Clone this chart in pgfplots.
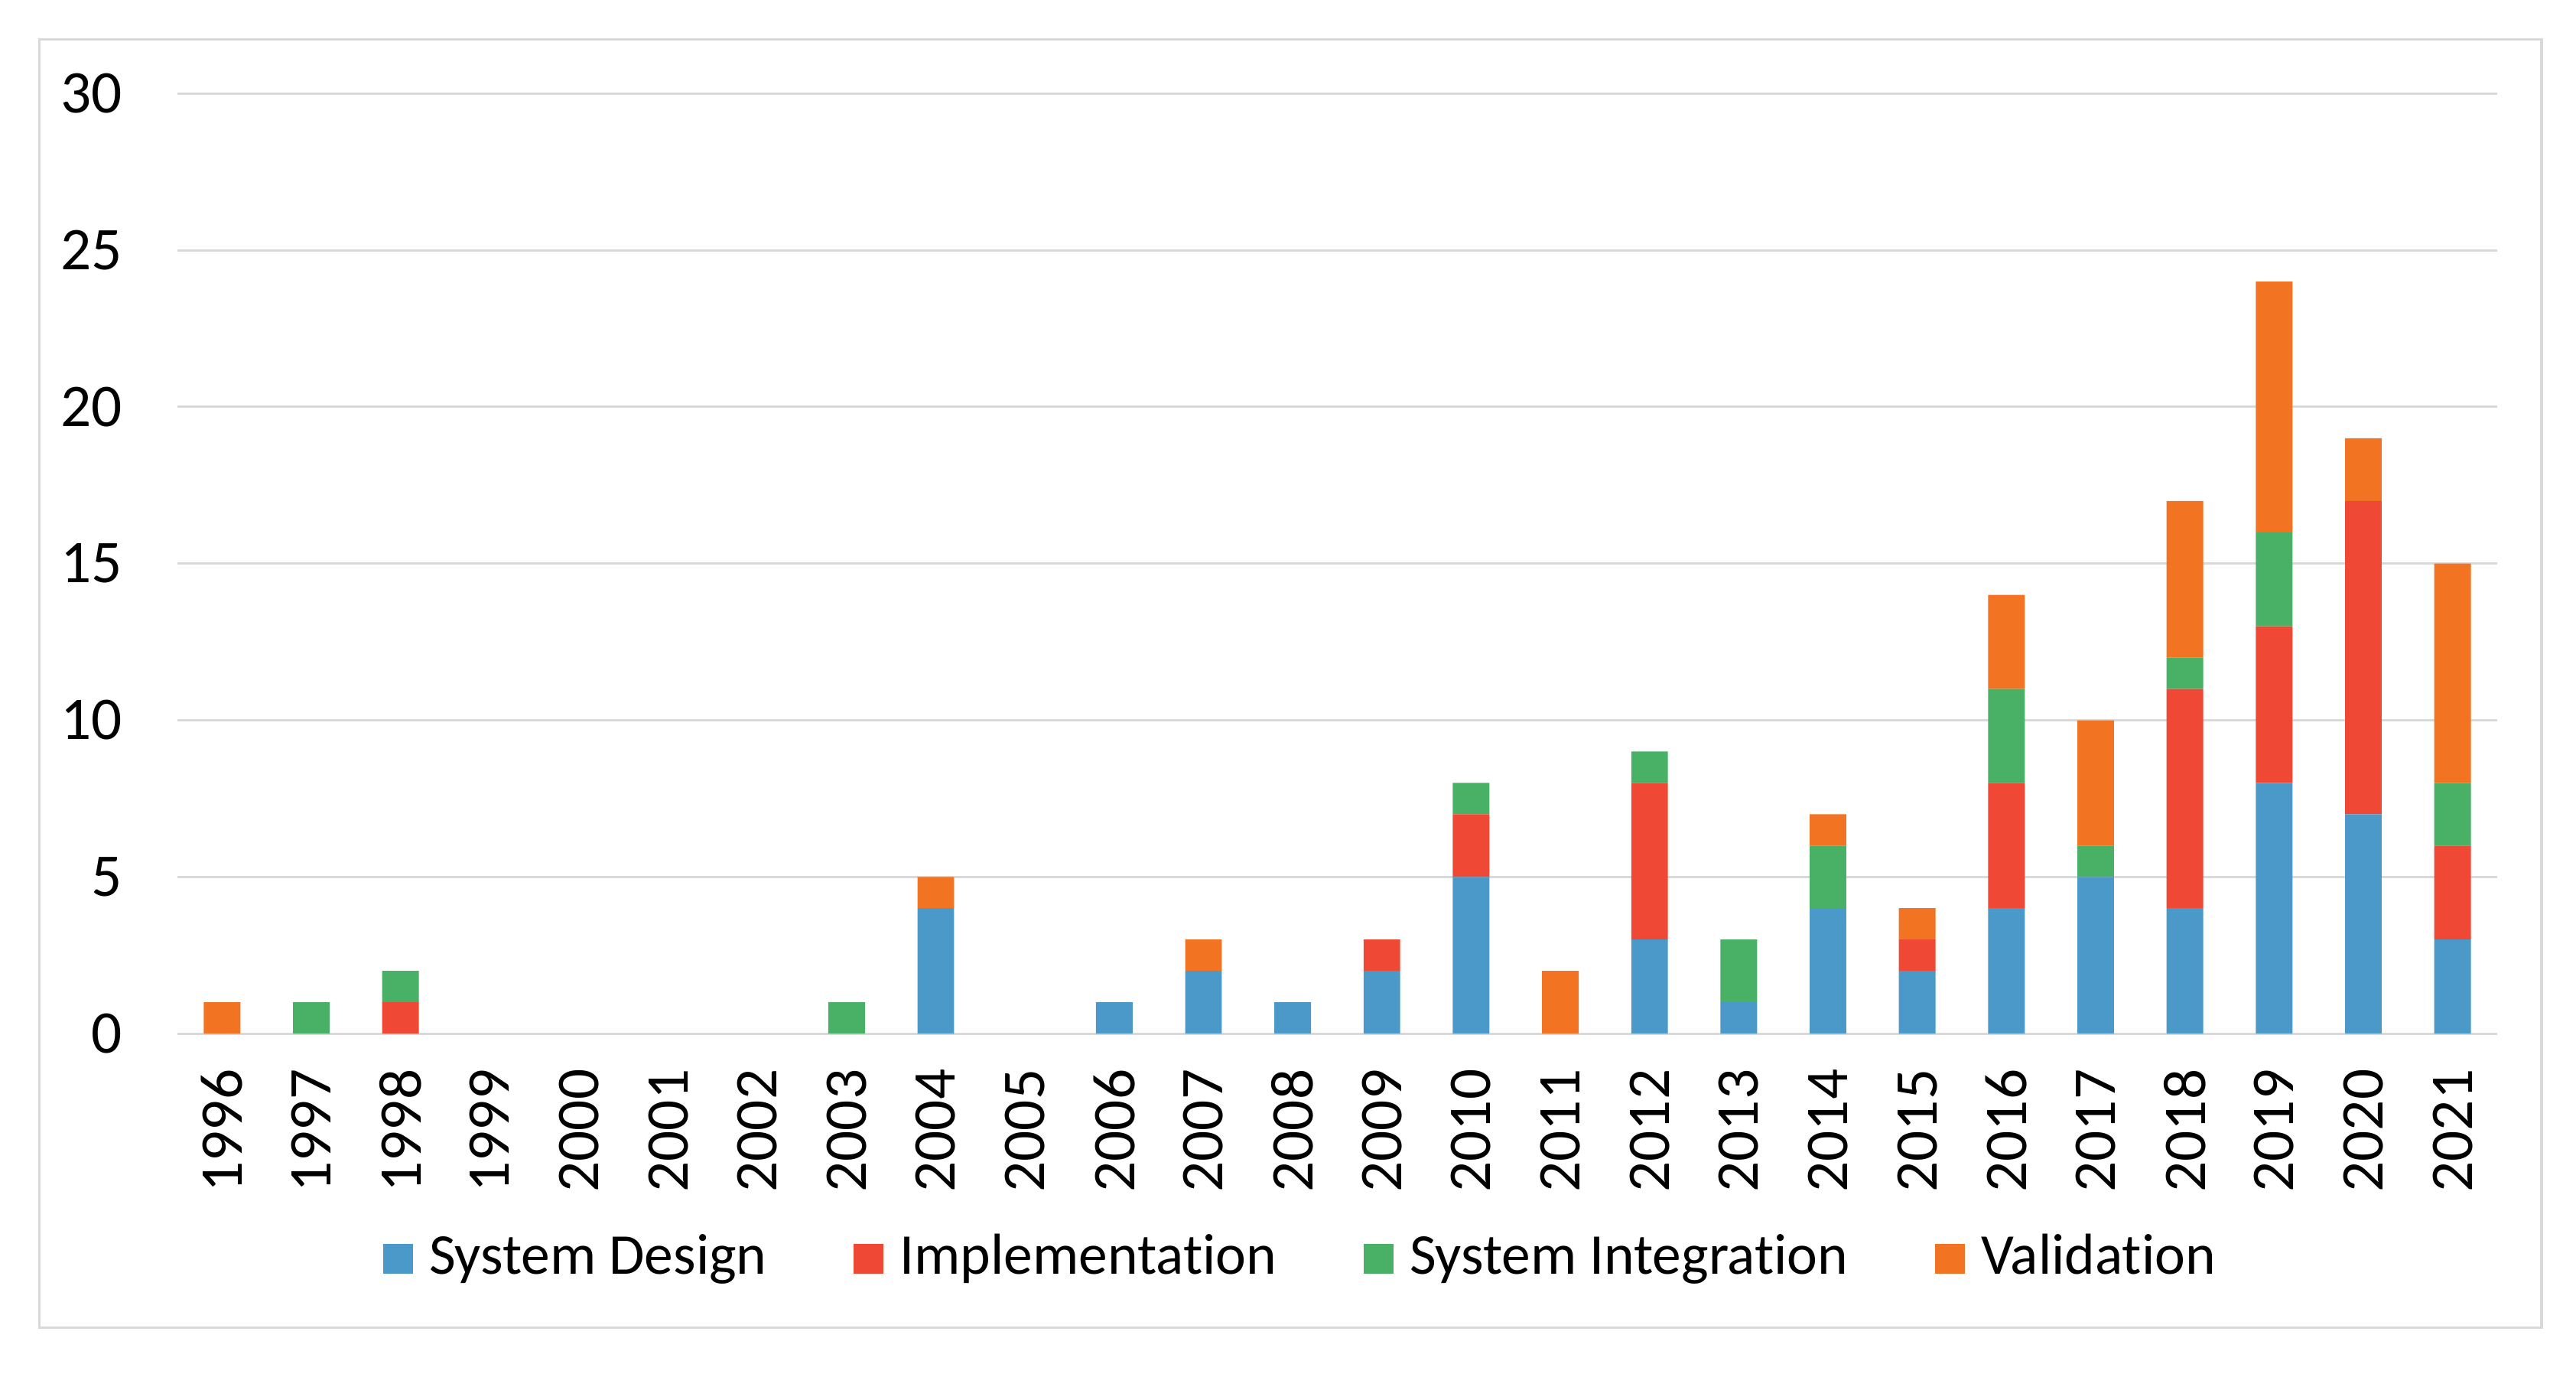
\documentclass[border=0pt]{standalone}
\usepackage{fontspec}
\setmainfont{Carlito}[Ligatures={NoCommon}]
\usepackage{pgfplots}
\pgfplotsset{compat=1.18}
\usepackage{pgfplotstable}
\definecolor{cSD}{RGB}{74,153,201}
\definecolor{cIM}{RGB}{239,72,53}
\definecolor{cSI}{RGB}{72,177,101}
\definecolor{cVA}{RGB}{242,115,34}
\definecolor{gridgray}{RGB}{217,217,217}
\pgfplotstableread{
x SD IM SI VA
0 0 0 0 1
1 0 0 1 0
2 0 1 1 0
3 0 0 0 0
4 0 0 0 0
5 0 0 0 0
6 0 0 0 0
7 0 0 1 0
8 4 0 0 1
9 0 0 0 0
10 1 0 0 0
11 2 0 0 1
12 1 0 0 0
13 2 1 0 0
14 5 2 1 0
15 0 0 0 2
16 3 5 1 0
17 1 0 2 0
18 4 0 2 1
19 2 1 0 1
20 4 4 3 3
21 5 0 1 4
22 4 7 1 5
23 8 5 3 8
24 7 10 0 2
25 3 3 2 7
}\datatable
\begin{document}
\begin{tikzpicture}
\path[use as bounding box] (0,0) rectangle (15.68cm,8.38cm);
\draw[gridgray, line width=0.45pt] (0.24cm,0.30cm) rectangle (15.47cm,8.14cm);
\begin{axis}[
  at={(1.08cm,2.09cm)}, anchor=south west,
  scale only axis, width=14.12cm, height=5.72cm,
  ybar stacked, bar width=0.223cm,
  xmin=-0.5, xmax=25.5, ymin=0, ymax=30,
  ytick={0,5,10,15,20,25,30},
  xtick={0,...,25},
  xticklabels={1996,1997,1998,1999,2000,2001,2002,2003,2004,2005,2006,2007,2008,2009,2010,2011,2012,2013,2014,2015,2016,2017,2018,2019,2020,2021},
  axis line style={draw=none},
  major tick length=0pt,
  ymajorgrids, grid style={gridgray, line width=0.4pt},
  /pgf/number format/assume math mode=true,
  tick label style={font=\fontsize{10.5}{12}\selectfont, text=black},
  yticklabel style={anchor=east, inner sep=0pt, xshift=-0.33cm},
  xticklabel style={rotate=90, anchor=east, inner sep=0pt},
  xticklabel shift=0.21cm,
  legend columns=4,
  legend style={at={(0.4837,-0.2395)}, anchor=center, draw=none, fill=none,
     font=\fontsize{10}{12}\selectfont, inner sep=0pt,
     nodes={inner sep=0pt},
     /tikz/every odd column/.append style={column sep=0.10cm},
     /tikz/every even column/.append style={column sep=0.53cm}},
  legend image code/.code={\path[#1, draw=none] (0cm,-0.09cm) rectangle (0.18cm,0.09cm);},
]
\addplot[fill=cSD, draw=none] table[x=x, y=SD] {\datatable};
\addplot[fill=cIM, draw=none] table[x=x, y=IM] {\datatable};
\addplot[fill=cSI, draw=none] table[x=x, y=SI] {\datatable};
\addplot[fill=cVA, draw=none] table[x=x, y=VA] {\datatable};
\legend{System Design, Implementation, System Integration, Validation}
\end{axis}
\end{tikzpicture}
\end{document}
